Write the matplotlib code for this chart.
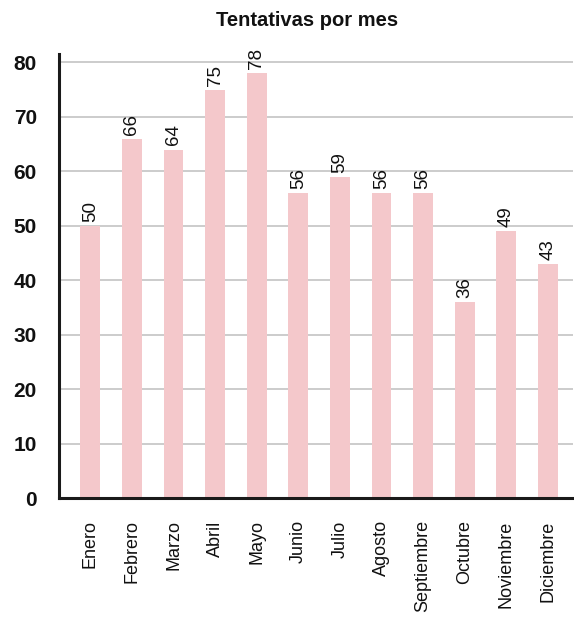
import matplotlib
matplotlib.use("Agg")
import matplotlib.pyplot as plt

plt.rcParams["font.family"] = ["Liberation Sans", "DejaVu Sans"]

# Monthly attempts
months = ["Enero", "Febrero", "Marzo", "Abril", "Mayo", "Junio", "Julio",
          "Agosto", "Septiembre", "Octubre", "Noviembre", "Diciembre"]
attempts = [50, 66, 64, 75, 78, 56, 59, 56, 56, 36, 49, 43]
y_ticks = [0, 10, 20, 30, 40, 50, 60, 70, 80]

bar_color = "#f4c8cb"
text_color = "#111111"

fig = plt.figure(figsize=(5.74, 6.18), dpi=100)
ax = fig.add_axes([0.103, 0.194, 0.895, 0.719])

x = list(range(len(months)))
bars = ax.bar(x, attempts, width=0.48, color=bar_color, zorder=2)

for rect, val in zip(bars, attempts):
    ax.annotate(str(val), (rect.get_x() + rect.get_width() / 2, val),
                xytext=(0, 3), textcoords="offset points",
                ha="center", va="bottom", rotation=90,
                fontsize=13.5, color=text_color)

ax.set_xlim(-0.75, 11.6)
ax.set_ylim(0, 81.6)
ax.set_yticks(y_ticks)
ax.set_yticklabels([str(t) for t in y_ticks], fontsize=15, fontweight="bold",
                   color=text_color)
ax.set_xticks(x)
ax.set_xticklabels(months, rotation=90, fontsize=13, color=text_color,
                   va="top", ha="center")
ax.tick_params(axis="both", length=0)
ax.tick_params(axis="x", pad=16)
ax.tick_params(axis="y", pad=16)

ax.yaxis.grid(True, color="#c8c8c8", linewidth=1.3, zorder=0)
ax.set_axisbelow(True)

for side in ("top", "right"):
    ax.spines[side].set_visible(False)
for side in ("left", "bottom"):
    ax.spines[side].set_linewidth(2.2)
    ax.spines[side].set_color("#1a1a1a")

fig.text(0.535, 0.967, "Tentativas por mes", ha="center", va="center",
         fontsize=14.5, fontweight="bold", color=text_color)

fig.savefig("out.png", dpi=100)
